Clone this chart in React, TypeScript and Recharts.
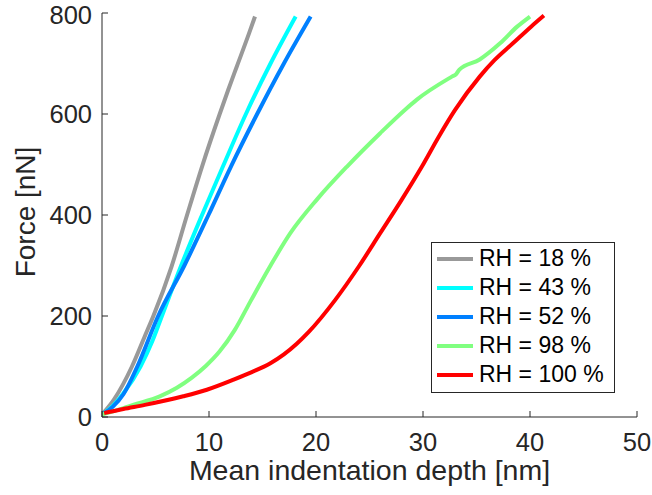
import React from 'react';
import { LineChart, Line, XAxis, YAxis, Label } from 'recharts';

// x: mean indentation depth [nm], y: force [nN]
const depth18 = [0, 1.1, 2.8, 4.0, 4.8, 6.5, 7.95, 9.35, 11.0, 11.8, 12.6, 13.75, 14.3];
const force18 = [5, 34, 100, 160, 200, 298, 400, 496, 600, 648, 694, 760, 793];

const depth43 = [0, 1.0, 2.0, 3.6, 4.7, 5.6, 7.4, 9.35, 11.3, 13.45, 15.75, 18.1];
const force43 = [5, 22, 47, 100, 150, 200, 300, 400, 496, 600, 700, 793];

const depth52 = [0, 1.0, 2.0, 3.3, 5.25, 7.7, 9.95, 12.05, 14.5, 17.0, 19.5];
const force52 = [5, 20, 45, 100, 200, 300, 400, 496, 600, 700, 793];

const depth98 = [0, 1.2, 2.9, 5.4, 7.0, 8.4, 9.7, 11.0, 12.4, 13.9, 15.7, 17.6, 20.1, 22.9, 26.0, 28.3, 29.4, 32.7, 33.1, 33.4, 35.3, 37.2, 38.8, 40.0];
const force98 = [5, 12, 24, 41, 58, 78, 101, 130, 172, 230, 298, 364, 431, 496, 562, 608, 628, 674, 679, 688, 708, 740, 773, 793];

const depth100 = [0.2, 2.0, 4.0, 7.6, 9.8, 12.3, 14.0, 15.7, 17.0, 18.2, 19.3, 21.8, 24.0, 26.0, 28.0, 29.9, 31.5, 33.0, 35.3, 36.7, 38.4, 40.1, 41.3];
const force100 = [8, 16, 24, 41, 54, 74, 89, 106, 124, 145, 168, 232, 298, 364, 430, 496, 556, 608, 674, 707, 740, 773, 795];

const xTicks = [0, 10, 20, 30, 40, 50];
const yTicks = [0, 200, 400, 600, 800];

const toPoints = (xs: number[], ys: number[]) => xs.map((x, i) => ({ x, y: ys[i] }));

const series = [
  { name: 'RH = 18 %', color: '#999999', data: toPoints(depth18, force18) },
  { name: 'RH = 43 %', color: '#00ffff', data: toPoints(depth43, force43) },
  { name: 'RH = 52 %', color: '#0080ff', data: toPoints(depth52, force52) },
  { name: 'RH = 98 %', color: '#80ff80', data: toPoints(depth98, force98) },
  { name: 'RH = 100 %', color: '#ff0000', data: toPoints(depth100, force100) },
];

const FONT = '"Liberation Sans", Arial, Helvetica, sans-serif';
const INK = '#262626';

const YTitle = () => (
  <text x={35} y={212} transform="rotate(-90, 35, 212)" textAnchor="middle" fill={INK} fontSize={28} fontFamily={FONT}>
    Force [nN]
  </text>
);

export default function App() {
  return (
    <div style={{ position: 'absolute', left: 0, top: 0, width: 652, height: 495, background: '#fff', fontFamily: FONT }}>
      <LineChart width={652} height={495} margin={{ top: 13, right: 15, bottom: 0, left: 0 }} style={{ fontFamily: FONT }}>
        <XAxis
          xAxisId="bottom"
          type="number"
          dataKey="x"
          domain={[0, 50]}
          ticks={xTicks}
          allowDataOverflow
          height={78}
          stroke={INK}
          tickSize={-6}
          tickMargin={22}
          tick={{ fill: INK, fontSize: 25.5 }}
        >
          <Label value="Mean indentation depth [nm]" position="insideBottom" offset={15} fill={INK} fontSize={28.5} />
        </XAxis>
        <XAxis
          xAxisId="top"
          orientation="top"
          type="number"
          dataKey="x"
          domain={[0, 50]}
          ticks={xTicks}
          height={0}
          stroke={INK}
          tickSize={-5}
          tickFormatter={() => ''}
        />
        <YAxis
          yAxisId="left"
          type="number"
          domain={[0, 800]}
          ticks={yTicks}
          width={102}
          stroke={INK}
          tickSize={-6}
          tickMargin={16}
          tick={{ fill: INK, fontSize: 25.5 }}
          label={<Label content={YTitle} />}
        />
        <YAxis
          yAxisId="right"
          orientation="right"
          type="number"
          domain={[0, 800]}
          ticks={yTicks}
          width={0}
          stroke={INK}
          tickSize={-6}
          tickFormatter={() => ''}
        />
        {series.map((s) => (
          <Line
            key={s.name}
            xAxisId="bottom"
            yAxisId="left"
            data={s.data}
            dataKey="y"
            name={s.name}
            type="monotone"
            stroke={s.color}
            strokeWidth={4}
            dot={false}
            activeDot={false}
            isAnimationActive={false}
          />
        ))}
      </LineChart>
      <div
        style={{
          position: 'absolute',
          left: 431,
          top: 242,
          width: 182,
          height: 148,
          border: `1px solid ${INK}`,
          background: '#fff',
          paddingTop: 1,
          boxSizing: 'content-box',
        }}
      >
        {series.map((s) => (
          <div key={s.name} style={{ display: 'flex', alignItems: 'center', height: 29 }}>
            <div style={{ width: 36, height: 4, background: s.color, marginLeft: 5, marginRight: 6 }} />
            <span style={{ fontSize: 23, color: '#000', lineHeight: '29px', whiteSpace: 'nowrap' }}>{s.name}</span>
          </div>
        ))}
      </div>
    </div>
  );
}
